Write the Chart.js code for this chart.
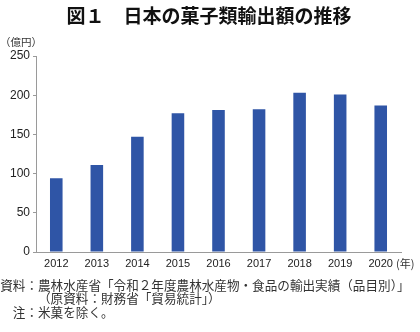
<!DOCTYPE html>
<html>
<head>
<meta charset="utf-8">
<script src="https://cdn.jsdelivr.net/npm/chart.js@4"></script>
<style>
  html, body { margin: 0; padding: 0; background: #fff; }
  #wrap { width: 420px; height: 332px; }
</style>
</head>
<body>
<div id="wrap"><canvas id="exports-chart" width="420" height="332"></canvas></div>
<script>
// 菓子類輸出額（億円）
const years = ['2012', '2013', '2014', '2015', '2016', '2017', '2018', '2019', '2020'];
const exportValues = [94, 111, 147, 177, 181, 182, 203, 201, 187];
const yTicks = [0, 50, 100, 150, 200, 250];

const titleText = '図１　日本の菓子類輸出額の推移';
const unitText = '（億円）';
const yearUnitText = '(年)';
const notes = [
    { label: '資料：', text: '農林水産省「令和２年度農林水産物・食品の輸出実績（品目別）」' },
    { label: '', text: '（原資料：財務省「貿易統計」）' },
    { label: '注：', text: '米菓を除く。' }
];

const jpFont = '"Noto Sans CJK JP", "Noto Sans", sans-serif';

// title, units and source notes drawn around the plot
const textPlugin = {
    id: 'chartTexts',
    afterDraw(chart) {
        const ctx = chart.ctx;
        ctx.save();
        ctx.fillStyle = '#111';
        ctx.font = 'bold 19px ' + jpFont;
        ctx.textAlign = 'center';
        ctx.textBaseline = 'middle';
        ctx.fillText(titleText, 209, 16);

        ctx.fillStyle = '#333';
        ctx.font = '10.5px ' + jpFont;
        ctx.textAlign = 'left';
        ctx.fillText(unitText, 0, 42);

        ctx.font = '11px ' + jpFont;
        ctx.fillText(yearUnitText, 396, 264);

        ctx.font = '12.6px ' + jpFont;
        const rows = [285, 298.5, 312];
        notes.forEach((n, i) => {
            ctx.textAlign = 'right';
            ctx.fillText(n.label, 38, rows[i]);
            ctx.textAlign = 'left';
            ctx.fillText(n.text, 38, rows[i]);
        });
        ctx.restore();
    }
};

const ctx = document.getElementById('exports-chart').getContext('2d');
new Chart(ctx, {
    type: 'bar',
    data: {
        labels: years,
        datasets: [{
            data: exportValues,
            backgroundColor: 'rgb(47, 85, 166)',
            borderWidth: 0,
            barPercentage: 0.31,
            categoryPercentage: 1.0
        }]
    },
    options: {
        responsive: false,
        animation: false,
        layout: { padding: { left: 0, right: 19, top: 56, bottom: 60 } },
        plugins: {
            legend: { display: false },
            tooltip: { enabled: false }
        },
        scales: {
            x: {
                grid: { display: false, drawTicks: false },
                border: { display: true, color: '#9a9a9a', width: 1 },
                ticks: {
                    color: '#222',
                    font: { family: '"Liberation Sans", Arial, sans-serif', size: 11 },
                    padding: 5,
                    maxRotation: 0
                },
                afterFit(scale) { scale.height = 20; }
            },
            y: {
                min: 0,
                max: 250,
                afterBuildTicks(scale) {
                    scale.ticks = yTicks.map(v => ({ value: v }));
                },
                grid: {
                    display: true,
                    drawOnChartArea: false,
                    drawTicks: true,
                    tickLength: 3,
                    color: '#9a9a9a'
                },
                border: { display: true, color: '#9a9a9a', width: 1 },
                ticks: {
                    color: '#222',
                    font: { family: '"Liberation Sans", Arial, sans-serif', size: 12 },
                    padding: 3
                },
                afterFit(scale) { scale.width = 36; }
            }
        }
    },
    plugins: [textPlugin]
});
</script>
</body>
</html>
